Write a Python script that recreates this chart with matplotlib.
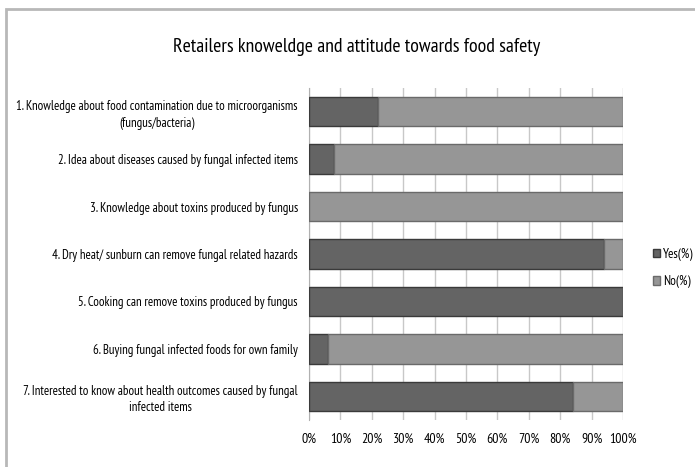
import matplotlib
matplotlib.use("Agg")
import matplotlib.pyplot as plt
from matplotlib.patches import Rectangle, Patch
import numpy as np

plt.rcParams['font.family'] = ['PT Sans Narrow', 'DejaVu Sans']

categories = [
    "1. Knowledge about food contamination due to microorganisms\n(fungus/bacteria)",
    "2. Idea about diseases caused by fungal infected items",
    "3. Knowledge about toxins produced by fungus",
    "4. Dry heat/ sunburn can remove fungal related hazards",
    "5. Cooking can remove toxins produced by fungus",
    "6. Buying fungal infected foods for own family",
    "7. Interested to know about health outcomes caused by fungal\ninfected items",
]
yes_pct = [22, 8, 0, 94, 100, 6, 84]
no_pct = [78, 92, 100, 6, 0, 94, 16]
tick_labels = ["0%", "10%", "20%", "30%", "40%", "50%", "60%", "70%", "80%", "90%", "100%"]

fig = plt.figure(figsize=(6.95, 4.67), dpi=100)
ax = fig.add_axes([309/695, 1-420/467, (623-309)/695, (420-88)/467])

y = np.arange(len(categories))
h = 0.62
ax.barh(y, yes_pct, height=h, color='#646464', edgecolor='#3a3a3a', linewidth=1.0, label='Yes(%)', zorder=3)
ax.barh(y, no_pct, left=yes_pct, height=h, color='#969696', edgecolor='#6a6a6a', linewidth=1.0, label='No(%)', zorder=3)

ax.set_ylim(len(categories)-0.5, -0.5)
ax.set_xlim(0, 100)
ax.set_xticks(np.arange(0, 101, 10))
ax.set_xticklabels(tick_labels, fontsize=10)
ax.set_yticks(y)
ax.set_yticklabels(categories, fontsize=9.3, ha='right', multialignment='center', linespacing=1.35)
ax.tick_params(axis='y', length=0, pad=8)
ax.tick_params(axis='x', length=0, pad=9.5)
ax.grid(axis='x', color='#c8c8c8', linewidth=1.0, zorder=0)
for s in ['top', 'right', 'bottom']:
    ax.spines[s].set_visible(False)
ax.spines['left'].set_color('#b0b0b0')

fig.text(357/695, 1-47/467, "Retailers knoweldge and attitude towards food safety", ha='center', va='center', fontsize=14.3)

handles = [Patch(facecolor='#646464', edgecolor='#3a3a3a'), Patch(facecolor='#969696', edgecolor='#6a6a6a')]
fig.legend(handles, ['Yes(%)', 'No(%)'], loc='center left', bbox_to_anchor=(653/695, 1-268/467),
           frameon=False, fontsize=9.5, handlelength=0.5, handleheight=0.6, handletextpad=0.25, labelspacing=1.1,
           borderpad=0, borderaxespad=0)

# outer chart frame
fig.patches.append(Rectangle((6/695, -0.1), 1.2, 1-9/467+0.1, transform=fig.transFigure,
                             fill=False, edgecolor='#b8b8b8', linewidth=2))

fig.savefig("out.png", dpi=100)
